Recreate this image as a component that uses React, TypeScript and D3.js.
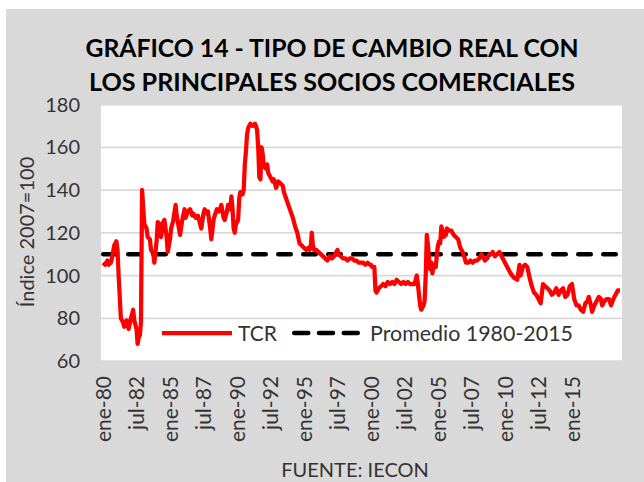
import * as d3 from "d3";
import React, { useEffect, useRef } from "react";

// TCR index (2007=100), [months since ene-80, value]
const tcr80s: [number, number][] = [
  [0, 106], [2, 105], [4, 107], [5, 105], [7, 106], [8, 108], [10, 114], [12, 116],
  [13, 112], [14, 100], [16, 80], [18, 78], [19, 76], [21, 79], [23, 75], [25, 80],
  [27, 84], [28, 79], [30, 75], [31, 68], [32, 71], [33, 72], [34, 78], [35, 140],
  [36, 132], [37, 124], [39, 122], [40, 118], [42, 117], [43, 112], [45, 110], [46, 106],
  [48, 116], [49, 125], [51, 124], [52, 118], [54, 125], [55, 126], [57, 118], [58, 111],
  [60, 117], [61, 122], [63, 126], [65, 133], [66, 128], [68, 122], [69, 119], [71, 126],
  [73, 131], [74, 127], [76, 130], [78, 131], [80, 128], [81, 129], [83, 127], [85, 128],
  [87, 124], [88, 122], [90, 129], [91, 131], [93, 129], [94, 130], [96, 122], [97, 117],
  [99, 126], [100, 128], [102, 131], [104, 130], [106, 133], [108, 127], [109, 126],
  [111, 130], [112, 133], [114, 131], [115, 137], [116, 131], [117, 122], [118, 120],
  [119, 124],
];
const tcr90s: [number, number][] = [
  [121, 126], [122, 136], [123, 139], [124, 139], [125, 138], [126, 140], [127, 152],
  [128, 158], [129, 166], [130, 169], [132, 171], [134, 170], [136, 171], [137, 170],
  [138, 168], [139, 160], [140, 146], [141, 145], [142, 160], [143, 157], [144, 151],
  [146, 150], [147, 152], [148, 148], [150, 146], [152, 144], [153, 145], [155, 141],
  [157, 144], [159, 143], [161, 142], [162, 139], [164, 136], [166, 133], [168, 130],
  [170, 127], [172, 123], [174, 120], [176, 115], [178, 114], [180, 113], [182, 112],
  [184, 113], [185, 112], [186, 113], [187, 120], [188, 114], [189, 112], [191, 112],
  [193, 111], [195, 110], [197, 109], [199, 108], [201, 107], [203, 109], [205, 108],
  [207, 109], [209, 111], [210, 112], [211, 110], [213, 109], [215, 108], [217, 108],
  [219, 107], [221, 108], [223, 108], [225, 107], [227, 107], [229, 106], [231, 106],
  [233, 106], [235, 105], [237, 106], [239, 105],
];
const tcr00s: [number, number][] = [
  [240, 105], [241, 104], [243, 104], [244, 93], [245, 92], [247, 94], [249, 95],
  [251, 96], [253, 95], [255, 97], [257, 96], [259, 97], [261, 96], [263, 98], [265, 97],
  [267, 96], [269, 97], [271, 96], [273, 97], [275, 96], [277, 96], [279, 96], [281, 100],
  [282, 96], [283, 91], [284, 86], [285, 84], [287, 86], [288, 88], [289, 100], [290, 119],
  [291, 114], [292, 108], [293, 103], [294, 106], [295, 101], [296, 105], [298, 104],
  [299, 110], [300, 114], [301, 116], [302, 115], [303, 123], [304, 121], [305, 118],
  [307, 119], [308, 122], [310, 121], [312, 121], [314, 119], [316, 118], [318, 117],
  [320, 113], [322, 111], [324, 108], [325, 106], [327, 106], [329, 107], [331, 106],
  [333, 107], [335, 107], [337, 108], [339, 110], [340, 109], [342, 107], [344, 108],
  [346, 110], [348, 110], [349, 111], [351, 109], [353, 110], [355, 111], [356, 110],
  [358, 108], [359, 107],
];
const tcr10s: [number, number][] = [
  [360, 106], [362, 104], [365, 101], [368, 99], [371, 98], [373, 105], [374, 100],
  [376, 104], [378, 105], [380, 104], [382, 99], [384, 95], [386, 92], [388, 91],
  [390, 89], [392, 87], [394, 96], [396, 95], [398, 94], [400, 93], [402, 91], [404, 92],
  [406, 94], [408, 91], [410, 93], [412, 94], [414, 90], [416, 91], [418, 95], [420, 96],
  [422, 89], [424, 86], [426, 86], [428, 84], [430, 83], [432, 87], [434, 88], [435, 90],
  [437, 86], [438, 83], [440, 86], [442, 88], [444, 90], [446, 89], [447, 86], [449, 88],
  [451, 89], [453, 89], [455, 86], [457, 89], [459, 91], [461, 93], [463, 93],
];

const promedio = 110;
const yTicks = [60, 80, 100, 120, 140, 160, 180];
const xTickMonths = [0, 30, 60, 90, 120, 150, 180, 210, 240, 270, 300, 330, 360, 390, 420];
const xTickLabels = [
  "ene-80", "jul-82", "ene-85", "jul-87", "ene-90", "jul-92", "ene-95", "jul-97",
  "ene-00", "jul-02", "ene-05", "jul-07", "ene-10", "jul-12", "ene-15",
];

const FONT = "Lato, 'Open Sans', sans-serif";
const TEXT = "#333";

const App: React.FC = () => {
  const svgRef = useRef<SVGSVGElement>(null);

  useEffect(() => {
    if (!svgRef.current) return;
    const width = 644;
    const height = 482;
    const plot = { left: 101, right: 622, top: 104.5, bottom: 361 };

    const svg = d3.select(svgRef.current);
    svg.selectAll("*").remove();
    svg.attr("width", width).attr("height", height);

    // background
    svg.append("rect").attr("width", width).attr("height", height).attr("fill", "#fff");
    svg
      .append("rect")
      .attr("x", 6)
      .attr("y", 9)
      .attr("width", width - 6)
      .attr("height", height - 9)
      .attr("fill", "#d9d9d9");
    svg
      .append("rect")
      .attr("x", plot.left)
      .attr("y", plot.top)
      .attr("width", plot.right - plot.left)
      .attr("height", plot.bottom - plot.top)
      .attr("fill", "#fff");

    const x = d3.scaleLinear().domain([0, 463]).range([103, 620]);
    const y = d3.scaleLinear().domain([60, 180]).range([plot.bottom, plot.top]);

    // gridlines
    svg
      .append("g")
      .selectAll("line")
      .data(yTicks)
      .join("line")
      .attr("x1", plot.left)
      .attr("x2", plot.right)
      .attr("y1", (d) => y(d))
      .attr("y2", (d) => y(d))
      .attr("stroke", "#d9d9d9")
      .attr("stroke-width", 1.75);

    // y tick labels
    svg
      .append("g")
      .selectAll("text")
      .data(yTicks)
      .join("text")
      .attr("x", 80)
      .attr("y", (d) => y(d))
      .attr("dy", "0.36em")
      .attr("text-anchor", "end")
      .attr("fill", TEXT)
      .style("font-family", FONT)
      .style("font-size", "20px")
      .text((d) => d);

    // x tick labels (rotated)
    svg
      .append("g")
      .selectAll("text")
      .data(xTickMonths)
      .join("text")
      .attr("transform", (d) => `translate(${x(d)},376) rotate(-90)`)
      .attr("dy", "0.36em")
      .attr("text-anchor", "end")
      .attr("fill", TEXT)
      .style("font-family", FONT)
      .style("font-size", "21px")
      .text((d, i) => xTickLabels[i]);

    // y axis title
    svg
      .append("text")
      .attr("transform", "translate(27,232) rotate(-90)")
      .attr("dy", "0.36em")
      .attr("text-anchor", "middle")
      .attr("fill", TEXT)
      .style("font-family", FONT)
      .style("font-size", "20px")
      .text("Índice 2007=100");

    // average line
    svg
      .append("line")
      .attr("x1", plot.left + 2.25)
      .attr("x2", plot.right - 2)
      .attr("y1", y(promedio))
      .attr("y2", y(promedio))
      .attr("stroke", "#000")
      .attr("stroke-width", 4.5)
      .attr("stroke-linecap", "round")
      .attr("stroke-dasharray", "12.5,12.5");

    // TCR line
    const series = [...tcr80s, ...tcr90s, ...tcr00s, ...tcr10s];
    const line = d3
      .line<[number, number]>()
      .x((d) => x(d[0]))
      .y((d) => y(d[1]));
    svg
      .append("path")
      .datum(series)
      .attr("d", line)
      .attr("fill", "none")
      .attr("stroke", "#ff0000")
      .attr("stroke-width", 4.25)
      .attr("stroke-linejoin", "round");

    // legend
    const ly = 333;
    svg
      .append("line")
      .attr("x1", 162)
      .attr("x2", 232)
      .attr("y1", ly)
      .attr("y2", ly)
      .attr("stroke", "#ff0000")
      .attr("stroke-width", 4.25);
    svg
      .append("text")
      .attr("x", 238)
      .attr("y", ly)
      .attr("dy", "0.36em")
      .attr("fill", TEXT)
      .style("font-family", FONT)
      .style("font-size", "21px")
      .text("TCR");
    svg
      .append("line")
      .attr("x1", 294.25)
      .attr("x2", 357.75)
      .attr("y1", ly)
      .attr("y2", ly)
      .attr("stroke", "#000")
      .attr("stroke-width", 4.5)
      .attr("stroke-linecap", "round")
      .attr("stroke-dasharray", "14,10.75");
    svg
      .append("text")
      .attr("x", 370)
      .attr("y", ly)
      .attr("dy", "0.36em")
      .attr("fill", TEXT)
      .style("font-family", FONT)
      .style("font-size", "21px")
      .attr("textLength", 203)
      .attr("lengthAdjust", "spacingAndGlyphs")
      .text("Promedio 1980-2015");

    // title
    const titleLines = [
      "GRÁFICO 14 - TIPO DE CAMBIO REAL CON",
      "LOS PRINCIPALES SOCIOS COMERCIALES",
    ];
    const titleLens = [493, 486];
    titleLines.forEach((t, i) => {
      svg
        .append("text")
        .attr("x", 332)
        .attr("y", 57 + i * 34)
        .attr("text-anchor", "middle")
        .attr("textLength", titleLens[i])
        .attr("lengthAdjust", "spacingAndGlyphs")
        .attr("fill", "#000")
        .style("font-family", FONT)
        .style("font-weight", "bold")
        .style("font-size", "25px")
        .text(t);
    });

    // source
    svg
      .append("text")
      .attr("x", 355)
      .attr("y", 477)
      .attr("text-anchor", "middle")
      .attr("fill", TEXT)
      .style("font-family", FONT)
      .style("font-size", "20px")
      .text("FUENTE: IECON");
  }, []);

  return (
    <svg
      ref={svgRef}
      style={{ position: "absolute", left: 0, top: 0, display: "block" }}
    />
  );
};

export default App;
